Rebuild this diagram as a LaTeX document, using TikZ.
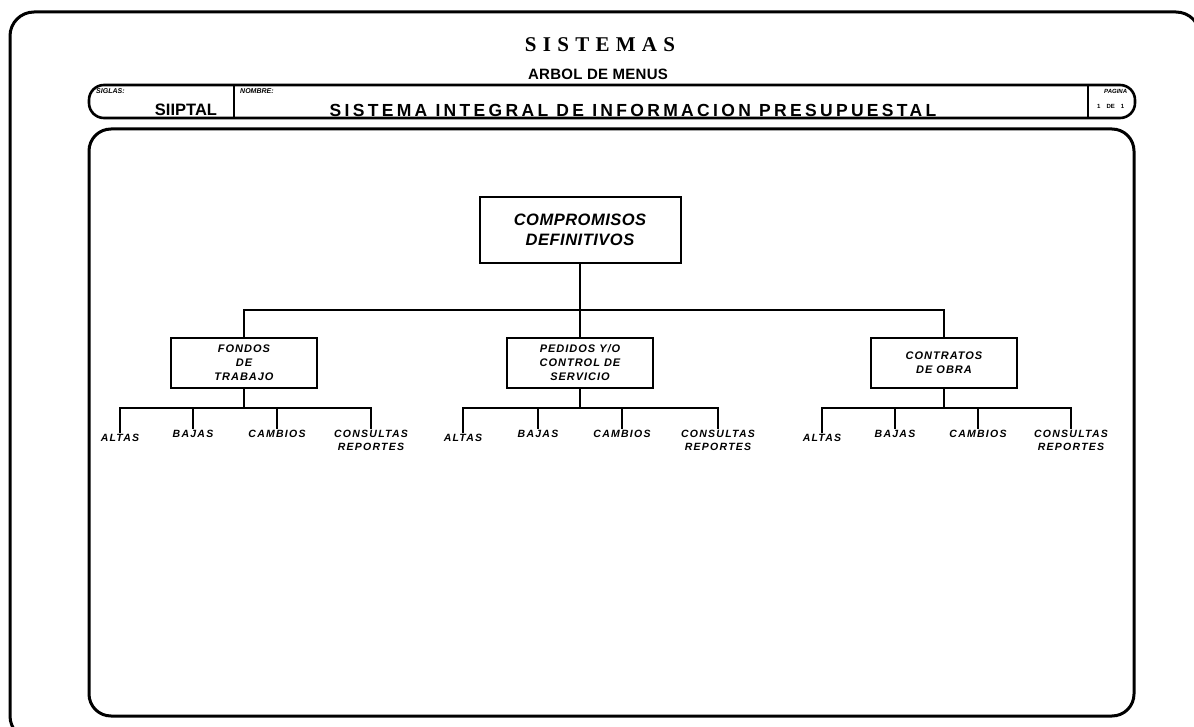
\documentclass[tikz,border=0pt]{standalone}
\usepackage{fontspec}
\setmainfont{Liberation Sans}
\newfontfamily\serifbold{Liberation Serif}
\usetikzlibrary{positioning}

\begin{document}
\begin{tikzpicture}[
    x=1pt, y=-1pt,
    frame/.style={line width=3pt, rounded corners=24pt},
    bar/.style={line width=2.6pt, rounded corners=15pt},
    rootbox/.style={draw, line width=2pt, minimum width=201pt, minimum height=66pt,
        align=center, font=\fontsize{16.5}{20}\selectfont\bfseries\itshape\addfontfeature{LetterSpace=3}},
    menubox/.style={draw, line width=1.6pt, minimum width=146pt, minimum height=50pt,
        align=center, font=\fontsize{11}{14}\selectfont\bfseries\itshape\addfontfeature{LetterSpace=9}},
    leaf/.style={anchor=north, align=center, inner sep=1pt,
        font=\fontsize{10.5}{12.5}\selectfont\bfseries\itshape\addfontfeature{LetterSpace=12}},
    tree/.style={line width=1.3pt},
    tag/.style={anchor=west, inner sep=0pt, font=\fontsize{7}{8}\selectfont\bfseries\itshape}
]
\useasboundingbox (0,0) rectangle (1194,727);
\clip (0,0) rectangle (1194,727);
\fill[white] (0,0) rectangle (1194,727);
% frames and header
\draw[frame] (10,12) rectangle (1200,740);
\draw[frame, rounded corners=22pt] (89,129) rectangle (1134,716);
\draw[bar] (89,85) rectangle (1135,118);
\draw[line width=2pt] (234,85) -- (234,118);
\draw[line width=2pt] (1088,85) -- (1088,118);
\node[font=\serifbold\fontsize{21}{24}\selectfont\bfseries\addfontfeature{LetterSpace=5}] (title) at (600,45) {S I S T E M A S};
\node[font=\fontsize{15}{18}\selectfont\bfseries\addfontfeature{LetterSpace=2}] (subtitle) at (598,74) {ARBOL DE MENUS};
\node[tag] (siglas) at (96,91) {SIGLAS:};
\node[font=\fontsize{16.5}{18}\selectfont\bfseries] (siiptal) at (186,110) {SIIPTAL};
\node[tag] (nombre) at (240,91) {NOMBRE:};
\node[font=\fontsize{17.5}{19}\selectfont\bfseries\addfontfeature{LetterSpace=19}] (sistema) at (633,110) {SISTEMA INTEGRAL DE INFORMACION PRESUPUESTAL};
\node[tag, font=\fontsize{6}{7}\selectfont\bfseries\itshape] (pagina) at (1104,91) {PAGINA};
\node[tag, font=\fontsize{6}{7}\selectfont\bfseries] (hoja) at (1097,106) {1\quad DE\quad 1};
% menu tree
\node[rootbox] (root) at (580,230) {COMPROMISOS\\DEFINITIVOS};
\node[menubox] (fondos) at (244,363) {FONDOS\\DE\\TRABAJO};
\node[menubox] (pedidos) at (580,363) {PEDIDOS Y/O\\CONTROL DE\\SERVICIO};
\node[menubox] (contratos) at (944,363) {CONTRATOS\\DE OBRA};
\coordinate (hub) at (580,310);
\draw[tree] (root) -- (hub);
\draw[tree] (fondos.north) |- (hub) -| (contratos.north);
\draw[tree] (hub) -- (pedidos.north);
% fondos de trabajo
\node[leaf] (fa) at (120,433) {ALTAS};
\node[leaf] (fb) at (193,429) {BAJAS};
\node[leaf] (fc) at (277,429) {CAMBIOS};
\node[leaf] (fd) at (371,429) {CONSULTAS\\REPORTES};
\coordinate (fj) at (244,408);
\draw[tree] (fondos) -- (fj);
\draw[tree] (fa.north) |- (fj) -| (fd.north);
\draw[tree] (fb.north) -- (fb.north |- fj);
\draw[tree] (fc.north) -- (fc.north |- fj);
% pedidos y/o control de servicio
\node[leaf] (pa) at (463,433) {ALTAS};
\node[leaf] (pb) at (538,429) {BAJAS};
\node[leaf] (pc) at (622,429) {CAMBIOS};
\node[leaf] (pd) at (718,429) {CONSULTAS\\REPORTES};
\coordinate (pj) at (580,408);
\draw[tree] (pedidos) -- (pj);
\draw[tree] (pa.north) |- (pj) -| (pd.north);
\draw[tree] (pb.north) -- (pb.north |- pj);
\draw[tree] (pc.north) -- (pc.north |- pj);
% contratos de obra
\node[leaf] (ca) at (822,433) {ALTAS};
\node[leaf] (cb) at (895,429) {BAJAS};
\node[leaf] (cc) at (978,429) {CAMBIOS};
\node[leaf] (cd) at (1071,429) {CONSULTAS\\REPORTES};
\coordinate (cj) at (944,408);
\draw[tree] (contratos) -- (cj);
\draw[tree] (ca.north) |- (cj) -| (cd.north);
\draw[tree] (cb.north) -- (cb.north |- cj);
\draw[tree] (cc.north) -- (cc.north |- cj);
\end{tikzpicture}
\end{document}
